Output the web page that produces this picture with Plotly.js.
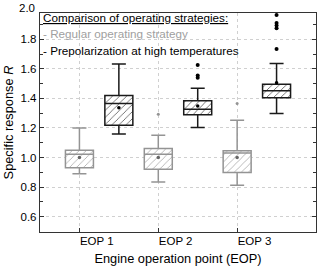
<!DOCTYPE html>
<html><head><meta charset="utf-8">
<script src="https://cdn.plot.ly/plotly-3.0.1.min.js"></script>
<style>html,body{margin:0;padding:0;background:#fff}#c{width:320px;height:271px}</style>
</head><body><div id="c"></div>
<script>
// Categories and tick labels
const categories = [1, 2, 3];
const labelPositions = [1.22, 2.22, 3.22];
const tickLabels = ["EOP 1", "EOP 2", "EOP 3"];
const yTickVals = [0.6, 0.8, 1.0, 1.2, 1.4, 1.6, 1.8];
const yTickText = ["0.6", "0.8", "1.0", "1.2", "1.4", "1.6", "1.8"];
const yTopLabel = "2.0";
const seriesNames = ["Regular operating strategy", "Prepolarization at high temperatures"];
// Regular operating strategy (grey)
const regX = [1, 2, 3];
const regLower = [0.89, 0.835, 0.812];
const regQ1 = [0.93, 0.92, 0.898];
const regMedian = [1.022, 1.022, 1.031];
const regQ3 = [1.049, 1.061, 1.045];
const regUpper = [1.20, 1.151, 1.253];
const regMean = [1.0, 1.0, 1.0];
const regOutX = [2, 3];
const regOutY = [1.293, 1.366];
// Prepolarization at high temperatures (black)
const preX = [1.5, 2.5, 3.5];
const preLower = [1.16, 1.203, 1.298];
const preQ1 = [1.219, 1.29, 1.404];
const preMedian = [1.366, 1.327, 1.452];
const preQ3 = [1.42, 1.384, 1.495];
const preUpper = [1.633, 1.468, 1.637];
const preMean = [1.336, 1.348, 1.506];
const preOutX = [2.5, 2.5, 2.5, 3.5, 3.5, 3.5, 3.5, 3.5, 3.5, 3.5];
const preOutY = [1.626, 1.555, 1.54, 1.735, 1.875, 1.893, 1.91, 1.965, 2.0, 2.03];

const grey = "#949494", dark = "#1a1a1a";
const font = "Liberation Sans, Arial, sans-serif";
const bw = 0.355;
const yRange = [0.496, 1.978];

function hatch(x, q1, q3, col) {
  return {type: "bar", x: x, base: q1, y: q3.map((v, i) => v - q1[i]), width: bw,
    marker: {color: "white", line: {width: 0}, pattern: {shape: "/", fgcolor: col, bgcolor: "white", size: 5, solidity: 0.16}},
    hoverinfo: "skip", showlegend: false};
}
function box(x, lo, q1, med, q3, up, col, name) {
  return {type: "box", name: name, x: x, lowerfence: lo, q1: q1, median: med, q3: q3, upperfence: up,
    width: bw, whiskerwidth: 0.5, fillcolor: "rgba(0,0,0,0)", line: {color: col, width: 1.5},
    boxpoints: false, showlegend: false};
}
function pts(x, y, col, size) {
  return {type: "scatter", mode: "markers", x: x, y: y, cliponaxis: false,
    marker: {color: col, size: size}, showlegend: false, hoverinfo: "skip"};
}

const data = [
  hatch(regX, regQ1, regQ3, "#aaaaaa"),
  hatch(preX, preQ1, preQ3, "#555555"),
  box(regX, regLower, regQ1, regMedian, regQ3, regUpper, grey, seriesNames[0]),
  box(preX, preLower, preQ1, preMedian, preQ3, preUpper, dark, seriesNames[1]),
  pts(regX, regMean, "#666666", 3.5),
  pts(preX, preMean, "#000000", 3.5),
  pts(regOutX, regOutY, grey, 3),
  pts(preOutX, preOutY, "#000000", 4),
  {type: "scatter", mode: "markers", x: labelPositions, y: [null, null, null], xaxis: "x2", showlegend: false, hoverinfo: "skip"}
];

const layout = {
  width: 320, height: 271,
  margin: {l: 40, r: 4, t: 13, b: 39},
  paper_bgcolor: "white", plot_bgcolor: "white",
  font: {family: font, size: 11.5, color: "#000"},
  barmode: "overlay",
  showlegend: false,
  xaxis: {range: [0.5, 4.0], tickvals: categories, showticklabels: false,
    showline: true, linecolor: "#333", linewidth: 1.2, mirror: true,
    ticks: "inside", ticklen: 4, tickcolor: "#333",
    showgrid: true, gridcolor: "#d0d0d0", griddash: "dot", gridwidth: 1, zeroline: false},
  xaxis2: {overlaying: "x", side: "bottom", range: [0.5, 4.0], tickvals: labelPositions, ticktext: tickLabels,
    showline: false, ticks: "", showgrid: false, zeroline: false, tickfont: {size: 11.5},
    title: {text: "Engine operation point (EOP)", font: {size: 12.8}, standoff: 8}},
  yaxis: {range: yRange, tickvals: yTickVals, ticktext: yTickText,
    showline: true, linecolor: "#333", linewidth: 1.2, mirror: "ticks",
    ticks: "inside", ticklen: 4, tickcolor: "#333",
    minor: {dtick: 0.1, tick0: 0.5, ticks: "inside", ticklen: 3, tickcolor: "#333", showgrid: false},
    showgrid: true, gridcolor: "#d0d0d0", griddash: "dot", gridwidth: 1, zeroline: false,
    tickfont: {size: 11.5},
    title: {text: "Specific response <i>R</i>", font: {size: 12.8}, standoff: 4}},
  annotations: [
    {xref: "paper", yref: "paper", x: 0, y: (2.0 - yRange[0]) / (yRange[1] - yRange[0]), xanchor: "right", yanchor: "middle", xshift: -3, yshift: 2, showarrow: false, text: yTopLabel, font: {size: 11.5}},
    {xref: "paper", yref: "paper", x: 0, y: 0.979, xanchor: "left", yanchor: "middle", xshift: 1, showarrow: false, text: "<u>Comparison of operating strategies:</u>", font: {size: 11.7, color: "#000"}},
    {xref: "paper", yref: "paper", x: 0, y: 0.906, xanchor: "left", yanchor: "middle", xshift: 1, showarrow: false, text: "- " + seriesNames[0], font: {size: 11.7, color: "#a0a0a0"}},
    {xref: "paper", yref: "paper", x: 0, y: 0.831, xanchor: "left", yanchor: "middle", xshift: 1, showarrow: false, text: "- " + seriesNames[1], font: {size: 11.7, color: "#000"}}
  ]
};
Plotly.newPlot("c", data, layout, {displayModeBar: false, staticPlot: true});
</script></body></html>
